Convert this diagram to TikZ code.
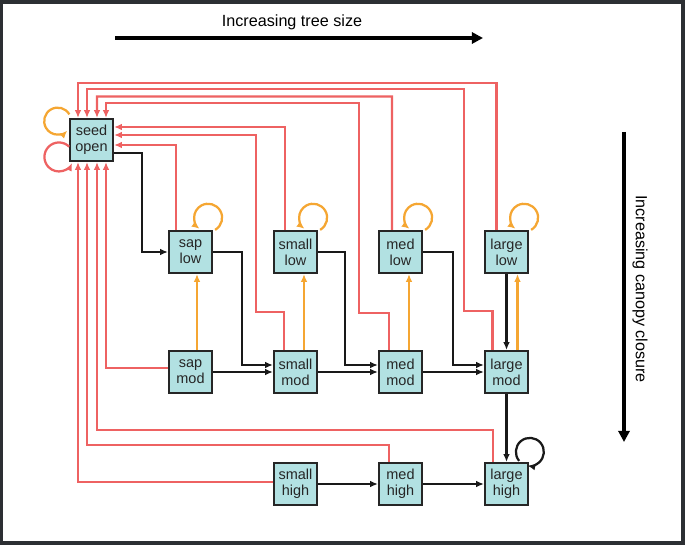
\documentclass[tikz,border=0pt]{standalone}
\usepackage{fontspec}
\setmainfont{Liberation Sans}
\usetikzlibrary{calc,arrows.meta}
\definecolor{flowred}{RGB}{238,98,98}
\definecolor{floworange}{RGB}{245,166,50}
\definecolor{boxfill}{RGB}{178,225,226}
\definecolor{framegray}{RGB}{44,47,51}
\newcommand{\lowloop}[1]{\draw[orangeline,->] ($(#1.north east)+(2,0)$) arc[start angle=60,delta angle=-292,radius=14];}

\begin{document}
\begin{tikzpicture}[x=0.025cm,y=-0.025cm,>={Latex[length=5.5pt,width=4.8pt]},
    state/.style={draw=black!85,line width=1.6pt,fill=boxfill,text=black!85,minimum width=1.075cm,minimum height=1.05cm,inner sep=0pt,align=center,font=\fontsize{10.3}{11.6}\selectfont},
    redline/.style={draw=flowred,line width=1.6pt},
    orangeline/.style={draw=floworange,line width=1.6pt},
    blackline/.style={draw=black!90,line width=1.6pt},
    axis/.style={line width=2.6pt,-{Triangle[length=8pt,width=8pt]}},
    axislabel/.style={font=\fontsize{11.5}{13}\selectfont}]
    \fill[framegray] (0,0) rectangle (685,545);
    \fill[white] (3,4) rectangle (681,541);
    \useasboundingbox (0,0) rectangle (685,545);

    % axes
    \coordinate (sizeA) at (115,38);
    \coordinate (sizeB) at (483,38);
    \draw[axis] (sizeA) -- (sizeB);
    \node[axislabel] (sizelab) at (292,22) {Increasing tree size};
    \coordinate (canA) at (624,132);
    \coordinate (canB) at (624,442);
    \draw[axis] (canA) -- (canB);
    \node[axislabel,rotate=-90] (canlab) at (640,289) {Increasing canopy closure};

    % states
    \node[state] (seed) at (91.5,140) {seed\\open};
    \node[state] (sapL) at (190.5,252) {sap\\low};
    \node[state] (sapM) at (190.5,372) {sap\\mod};
    \node[state] (smlL) at (295.5,252) {small\\low};
    \node[state] (smlM) at (295.5,372) {small\\mod};
    \node[state] (smlH) at (295.5,484) {small\\high};
    \node[state] (medL) at (400.5,252) {med\\low};
    \node[state] (medM) at (400.5,372) {med\\mod};
    \node[state] (medH) at (400.5,484) {med\\high};
    \node[state] (lrgL) at (506.5,252) {large\\low};
    \node[state] (lrgM) at (506.5,372) {large\\mod};
    \node[state] (lrgH) at (506.5,484) {large\\high};

    % back to seed, over the top
    \draw[redline,->] ($(lrgL.north)+(-10,0)$) |- (78,83) -- ($(seed.north)+(-13.5,0)$);
    \draw[redline,->] ($(lrgM.north)+(-14,0)$) -- ++(0,-39) -| (464,89) -| ($(seed.north)+(-4.5,0)$);
    \draw[redline,->] ($(medL.north)+(-8.5,0)$) |- (97,96.5) -- ($(seed.north)+(5.5,0)$);
    \draw[redline,->] ($(medM.north)+(-11.5,0)$) -- ++(0,-37) -| (359,103) -| ($(seed.north)+(14.5,0)$);
    \draw[redline,->] ($(smlL.north)+(-10.5,0)$) |- ($(seed.east)+(0,-13)$);
    \draw[redline,->] ($(smlM.north)+(-11.5,0)$) -- ++(0,-38) -| (256,135) -- ($(seed.east)+(0,-5)$);
    \draw[redline,->] ($(sapL.north)+(-14.5,0)$) |- ($(seed.east)+(0,5)$);

    % back to seed, from below
    \draw[redline,->] ($(sapM.west)+(0,-4)$) -| ($(seed.south)+(14.5,0)$);
    \draw[redline,->] ($(lrgH.north)+(-13.5,0)$) -- ++(0,-32) -| ($(seed.south)+(5.5,0)$);
    \draw[redline,->] ($(medH.north)+(-11.5,0)$) -- ++(0,-17) -| ($(seed.south)+(-4.5,0)$);
    \draw[redline,->] ($(smlH.west)+(0,-2)$) -| ($(seed.south)+(-13.5,0)$);

    % growth
    \draw[blackline,->] ($(seed.east)+(0,13)$) -- ++(28,0) |- (sapL.west);
    \draw[blackline,->] (sapL.east) -- ++(29,0) |- ($(smlM.west)+(0,-7)$);
    \draw[blackline,->] (smlL.east) -- ++(27,0) |- ($(medM.west)+(0,-7)$);
    \draw[blackline,->] (medL.east) -- ++(30,0) |- ($(lrgM.west)+(0,-7)$);
    \draw[blackline,->] (sapM) -- (smlM);
    \draw[blackline,->] (smlM) -- (medM);
    \draw[blackline,->] (medM) -- (lrgM);
    \draw[blackline,->] (lrgL) -- (lrgM);
    \draw[blackline,->] (lrgM) -- (lrgH);
    \draw[blackline,->] (smlH) -- (medH);
    \draw[blackline,->] (medH) -- (lrgH);
    \draw[blackline,->] ($(lrgH.north east)+(-10,-1)$) arc[start angle=140,delta angle=320,radius=14];

    % release
    \draw[orangeline,->] ($(sapM.north)+(6.5,0)$) -- ($(sapL.south)+(6.5,0)$);
    \draw[orangeline,->] ($(smlM.north)+(8.5,0)$) -- ($(smlL.south)+(8.5,0)$);
    \draw[orangeline,->] ($(medM.north)+(8.5,0)$) -- ($(medL.south)+(8.5,0)$);
    \draw[orangeline,->] ($(lrgM.north)+(11,0)$) -- ($(lrgL.south)+(11,0)$);
    \lowloop{sapL}
    \lowloop{smlL}
    \lowloop{medL}
    \lowloop{lrgL}
    \draw[orangeline,->] ($(seed.north west)+(0.5,-3.5)$) arc[start angle=-30,delta angle=-285,radius=13.5];
    \draw[redline,->] ($(seed.west)+(0.3,6.7)$) arc[start angle=-45,delta angle=-290,radius=14.5];
  \end{tikzpicture}
\end{document}
